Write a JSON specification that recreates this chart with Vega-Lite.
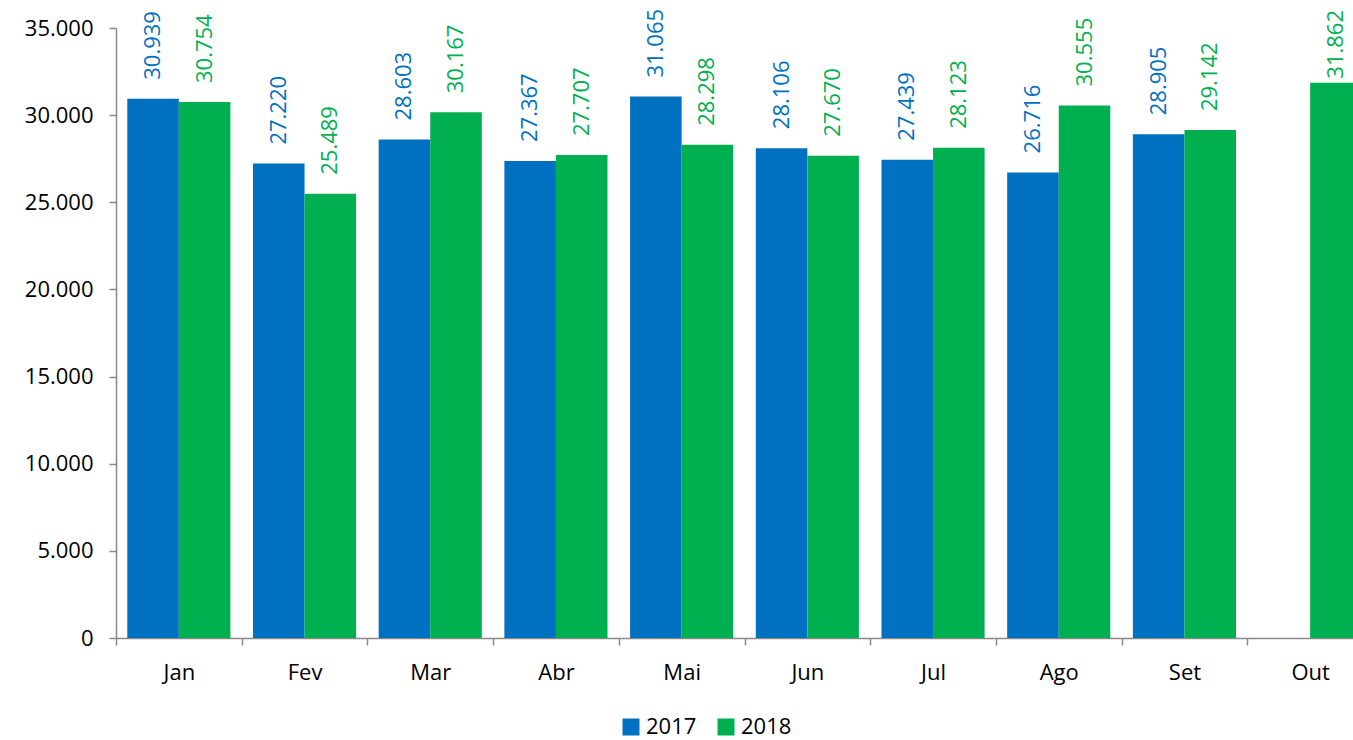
{
  "$schema": "https://vega.github.io/schema/vega-lite/v6.json",
  "width": 1237,
  "height": 610,
  "autosize": {"type": "none"},
  "padding": {"left": 116, "top": 28, "right": 0, "bottom": 102},
  "config": {
    "view": {"stroke": null},
    "font": "Open Sans",
    "locale": {"number": {"decimal": ",", "thousands": ".", "grouping": [3], "currency": ["R$", ""]}}
  },
  "data": {
    "values": [
      {"mes": "Jan", "ano": "2017", "valor": 30939},
      {"mes": "Jan", "ano": "2018", "valor": 30754},
      {"mes": "Fev", "ano": "2017", "valor": 27220},
      {"mes": "Fev", "ano": "2018", "valor": 25489},
      {"mes": "Mar", "ano": "2017", "valor": 28603},
      {"mes": "Mar", "ano": "2018", "valor": 30167},
      {"mes": "Abr", "ano": "2017", "valor": 27367},
      {"mes": "Abr", "ano": "2018", "valor": 27707},
      {"mes": "Mai", "ano": "2017", "valor": 31065},
      {"mes": "Mai", "ano": "2018", "valor": 28298},
      {"mes": "Jun", "ano": "2017", "valor": 28106},
      {"mes": "Jun", "ano": "2018", "valor": 27670},
      {"mes": "Jul", "ano": "2017", "valor": 27439},
      {"mes": "Jul", "ano": "2018", "valor": 28123},
      {"mes": "Ago", "ano": "2017", "valor": 26716},
      {"mes": "Ago", "ano": "2018", "valor": 30555},
      {"mes": "Set", "ano": "2017", "valor": 28905},
      {"mes": "Set", "ano": "2018", "valor": 29142},
      {"mes": "Out", "ano": "2018", "valor": 31862}
    ]
  },
  "encoding": {
    "x": {
      "field": "mes",
      "type": "nominal",
      "sort": ["Jan", "Fev", "Mar", "Abr", "Mai", "Jun", "Jul", "Ago", "Set", "Out"],
      "scale": {"range": [0, 1257], "paddingInner": 0, "paddingOuter": 0},
      "axis": {
        "title": null,
        "labelAngle": 0,
        "labelFontSize": 22,
        "labelColor": "#000000",
        "labelPadding": 17,
        "domainColor": "#898989",
        "domainWidth": 1.5,
        "tickColor": "#898989",
        "tickWidth": 1.5,
        "tickSize": 7,
        "tickBand": "extent"
      }
    },
    "xOffset": {"field": "ano", "type": "nominal", "scale": {"domain": ["2017", "2018"], "paddingInner": 0, "paddingOuter": 0.219}},
    "y": {
      "field": "valor",
      "type": "quantitative",
      "scale": {"domain": [0, 35000], "nice": false},
      "axis": {
        "title": null,
        "values": [0, 5000, 10000, 15000, 20000, 25000, 30000, 35000],
        "format": ",d",
        "grid": false,
        "labelFontSize": 22,
        "labelColor": "#000000",
        "labelPadding": 16,
        "domainColor": "#898989",
        "domainWidth": 1.5,
        "tickColor": "#898989",
        "tickWidth": 1.5,
        "tickSize": 7
      }
    },
    "color": {
      "field": "ano",
      "type": "nominal",
      "scale": {"domain": ["2017", "2018"], "range": ["#0070C0", "#00B050"]},
      "legend": {
        "title": null,
        "orient": "none",
        "direction": "horizontal",
        "legendX": 504,
        "legendY": 688,
        "symbolType": "square",
        "symbolSize": 289,
        "symbolStrokeWidth": 0,
        "symbolOpacity": 1,
        "labelFontSize": 22,
        "labelColor": "#000000",
        "labelOffset": 4,
        "columnPadding": 18
      }
    }
  },
  "layer": [
    {"mark": {"type": "bar"}},
    {
      "transform": [{"filter": "datum.mes !== 'Out'"}],
      "mark": {"type": "text", "angle": 270, "align": "left", "baseline": "middle", "dx": 19, "fontSize": 22},
      "encoding": {
        "text": {"field": "valor", "type": "quantitative", "format": ",d"}
      }
    },
    {
      "transform": [{"filter": "datum.mes === 'Out'"}],
      "mark": {"type": "text", "angle": 270, "align": "left", "baseline": "middle", "dx": 4, "fontSize": 22},
      "encoding": {
        "text": {"field": "valor", "type": "quantitative", "format": ",d"}
      }
    }
  ]
}
